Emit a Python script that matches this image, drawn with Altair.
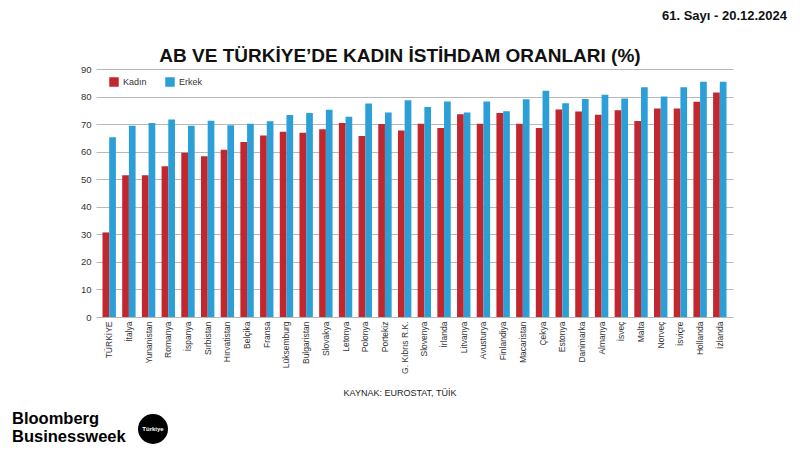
import altair as alt
import pandas as pd

countries = ["TÜRKİYE", "İtalya", "Yunanistan", "Romanya", "İspanya", "Sırbistan",
             "Hırvatistan", "Belçika", "Fransa", "Lüksemburg", "Bulgaristan", "Slovakya",
             "Letonya", "Polonya", "Portekiz", "G. Kıbrıs R.K.", "Slovenya", "İrlanda",
             "Litvanya", "Avusturya", "Finlandiya", "Macaristan", "Çekya", "Estonya",
             "Danimarka", "Almanya", "İsveç", "Malta", "Norveç", "İsviçre", "Hollanda", "İzlanda"]
kadin = [30.7, 51.4, 51.4, 54.7, 59.6, 58.3, 60.7, 63.5, 65.9, 67.2, 66.9, 68.1,
         70.4, 65.7, 70.0, 67.7, 70.1, 68.6, 73.6, 70.1, 74.0, 70.1, 68.6, 75.3,
         74.6, 73.4, 75.0, 71.1, 75.7, 75.7, 78.1, 81.5]
erkek = [65.2, 69.4, 70.4, 71.7, 69.4, 71.2, 69.6, 70.1, 71.0, 73.3, 74.0, 75.2,
         72.7, 77.5, 74.2, 78.7, 76.2, 78.2, 74.2, 78.2, 74.7, 79.0, 82.1, 77.6,
         79.1, 80.7, 79.3, 83.4, 80.0, 83.4, 85.4, 85.4]
series = ["Kadın", "Erkek"]
y_ticks = [0, 10, 20, 30, 40, 50, 60, 70, 80, 90]

title_text = "AB VE TÜRKİYE’DE KADIN İSTİHDAM ORANLARI (%)"
source_text = "KAYNAK: EUROSTAT, TÜİK"
issue_text = "61. Sayı - 20.12.2024"

rows = []
for c, k, e in zip(countries, kadin, erkek):
    rows.append({"ulke": c, "seri": "Kadın", "deger": k})
    rows.append({"ulke": c, "seri": "Erkek", "deger": e})
df = pd.DataFrame(rows)

W, H = 637, 248
FONT = "Liberation Sans"

bars = alt.Chart(df).mark_bar().encode(
    x=alt.X("ulke:N", sort=countries,
            scale=alt.Scale(paddingInner=0.32, paddingOuter=0.33),
            axis=alt.Axis(title=None, labelAngle=-90, labelAlign="right", labelBaseline="middle",
                          labelFontSize=8.5, labelColor="#333333", labelFont=FONT,
                          ticks=False, domain=False, labelPadding=4, grid=False)),
    xOffset=alt.XOffset("seri:N", sort=series),
    y=alt.Y("deger:Q", scale=alt.Scale(domain=[0, 90], nice=False),
            axis=alt.Axis(title=None, values=y_ticks, labelFontSize=9.5, labelColor="#333333",
                          labelFont=FONT, ticks=False, domain=False, labelPadding=5,
                          grid=True, gridColor="#b8b8b8", gridWidth=1)),
    color=alt.Color("seri:N", sort=series,
                    scale=alt.Scale(domain=series, range=["#c1272d", "#2b9fd6"]),
                    legend=alt.Legend(title=None, orient="none", legendX=13, legendY=8,
                                      direction="horizontal", symbolType="square",
                                      symbolSize=90, symbolStrokeWidth=0, labelFontSize=9,
                                      labelFont=FONT, labelColor="#333333",
                                      columnPadding=18, symbolOpacity=1)),
)

def txt(text, x, y, size, weight="normal", align="center", color="#111111", baseline="alphabetic"):
    return alt.Chart(pd.DataFrame({"t": [text]})).mark_text(
        fontSize=size, fontWeight=weight, align=align, baseline=baseline,
        color=color, font=FONT).encode(
        text="t:N", x=alt.value(x), y=alt.value(y))

ox, oy = 96, 69
title = txt(title_text, 400 - ox, 62 - oy, 19, "bold")
source = txt(source_text, 400 - ox, 396 - oy, 9, "normal", color="#222222")
issue = txt(issue_text, 787 - ox, 20 - oy, 13, "bold", align="right")
logo1 = txt("Bloomberg", 12 - ox, 424 - oy, 16.5, "bold", align="left", color="#000000")
logo2 = txt("Businessweek", 12 - ox, 442 - oy, 16.5, "bold", align="left", color="#000000")
circle = alt.Chart(pd.DataFrame({"a": [1]})).mark_point(
    filled=True, color="#000000", opacity=1, size=900, shape="circle").encode(
    x=alt.value(153 - ox), y=alt.value(429 - oy))
circ_txt = txt("Türkiye", 153 - ox, 431 - oy, 6, "bold", color="#ffffff")

chart = alt.layer(bars, title, source, issue, logo1, logo2, circle, circ_txt).properties(
    width=W, height=H,
    autosize=alt.AutoSizeParams(type="none"),
    padding={"left": ox, "top": oy, "right": 800 - ox - W, "bottom": 450 - oy - H},
    background="#ffffff",
).configure_view(stroke=None)

chart.save("out.html", embed_options={"renderer": "svg", "actions": False})
